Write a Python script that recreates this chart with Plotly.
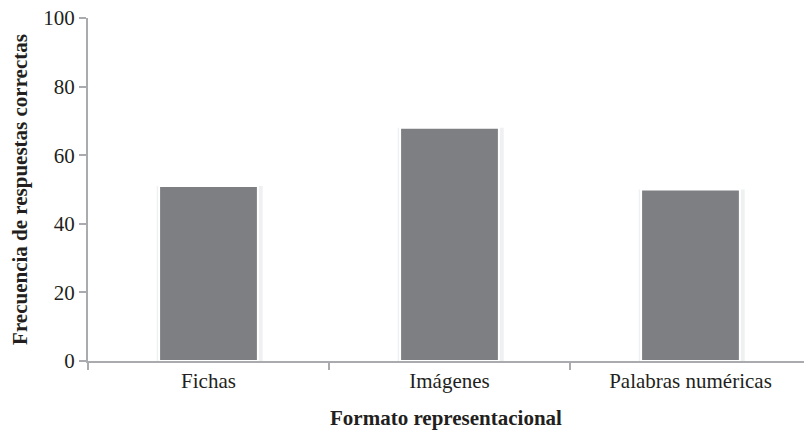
import plotly.graph_objects as go

# Frecuencia de respuestas correctas por formato representacional
categorias = ["Fichas", "Imágenes", "Palabras numéricas"]
frecuencias = [51, 68, 50]
y_ticks = [0, 20, 40, 60, 80, 100]

FONT = "Liberation Serif"
AXIS_GRAY = "#a9abae"
BAR_GRAY = "#7e7f83"

fig = go.Figure()

# soft shadow behind each bar
fig.add_trace(go.Bar(
    x=categorias, y=frecuencias, width=0.44, offset=-0.215,
    marker=dict(color="rgba(200,204,210,0.30)", line=dict(width=0)),
    hoverinfo="skip", showlegend=False,
))
fig.add_trace(go.Bar(
    x=categorias, y=frecuencias, width=0.41, offset=-0.205,
    marker=dict(color=BAR_GRAY, line=dict(color="white", width=2)),
    showlegend=False,
))

fig.update_layout(
    width=804, height=431,
    margin=dict(l=88, r=0, t=18, b=70),
    paper_bgcolor="white", plot_bgcolor="white",
    barmode="overlay",
    font=dict(family=FONT, color="#231f20", size=21),
    xaxis=dict(
        range=[-0.5, 2.471],
        tickson="boundaries",
        ticks="outside", ticklen=7, tickwidth=1.5, tickcolor=AXIS_GRAY,
        showline=True, linecolor=AXIS_GRAY, linewidth=2,
        showgrid=False, zeroline=False,
        tickfont=dict(family=FONT, size=21),
        title=dict(text="<b>Formato representacional</b>",
                   font=dict(family=FONT, size=21), standoff=18),
    ),
    yaxis=dict(
        range=[0, 100],
        tickvals=y_ticks,
        ticks="outside", ticklen=7, tickwidth=1.5, tickcolor=AXIS_GRAY,
        showline=True, linecolor=AXIS_GRAY, linewidth=2,
        showgrid=False, zeroline=False,
        tickfont=dict(family=FONT, size=21),
        title=dict(text="<b>Frecuencia de respuestas correctas</b>",
                   font=dict(family=FONT, size=21), standoff=10),
    ),
)

fig.write_html("out.html")
